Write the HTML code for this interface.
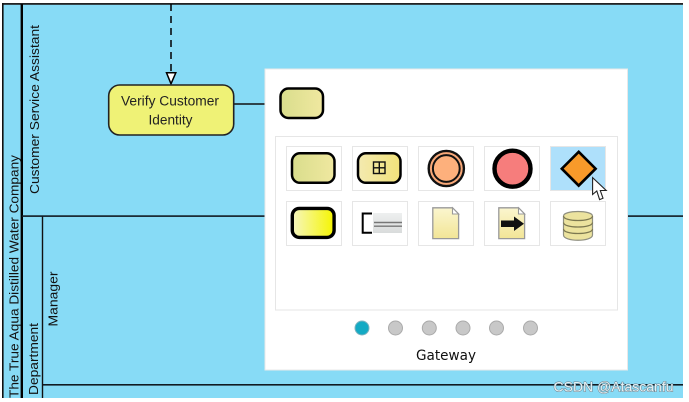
<!DOCTYPE html>
<html><head><meta charset="utf-8"><style>
html,body{margin:0;padding:0;background:#fff;width:689px;height:402px;overflow:hidden}
svg{display:block;font-family:"Liberation Sans",sans-serif;filter:blur(.35px)}
</style></head><body>
<svg width="689" height="402" viewBox="0 0 689 402" xmlns="http://www.w3.org/2000/svg">
<defs>
<linearGradient id="g1" x1="0" x2="1" y1="0" y2="0"><stop offset="0" stop-color="#d9dd8c"/><stop offset="1" stop-color="#f0e8a0"/></linearGradient>
<linearGradient id="g2" x1="0" x2="1" y1="0" y2="0"><stop offset="0" stop-color="#f3eab0"/><stop offset="1" stop-color="#f2e27a"/></linearGradient>
<linearGradient id="g3" x1="0" x2="1" y1="0" y2="0"><stop offset="0" stop-color="#f6f6c0"/><stop offset="1" stop-color="#f5f500"/></linearGradient>
<linearGradient id="g4" x1="0" x2="0" y1="0" y2="1"><stop offset="0" stop-color="#fbf6cf"/><stop offset="1" stop-color="#f2e596"/></linearGradient>
<linearGradient id="g5" x1="0" x2="0" y1="0" y2="1"><stop offset="0" stop-color="#eef0f0"/><stop offset="1" stop-color="#d9dcdc"/></linearGradient>
</defs>
<rect x="3" y="4" width="680" height="394" fill="#87dbf6"/>
<rect x="2" y="3" width="681" height="1.8" fill="#222"/>
<rect x="2" y="3" width="1.6" height="395" fill="#111"/>
<rect x="20.6" y="4" width="2.4" height="394" fill="#000"/>
<rect x="41.8" y="216" width="1.4" height="182" fill="#111"/>
<rect x="22" y="215.3" width="661" height="1.6" fill="#111a22"/>
<rect x="43" y="384" width="640" height="1.6" fill="#111a22"/>

<g fill="#111" font-size="13">
<text transform="translate(18.5,398) rotate(-90)" textLength="243" lengthAdjust="spacingAndGlyphs">The True Aqua Distilled Water Company</text>
<text transform="translate(39,194) rotate(-90)" textLength="169" lengthAdjust="spacingAndGlyphs">Customer Service Assistant</text>
<text transform="translate(38,395) rotate(-90)" textLength="72" lengthAdjust="spacingAndGlyphs">Department</text>
<text transform="translate(57.5,326.5) rotate(-90)" font-size="12.5" textLength="55" lengthAdjust="spacingAndGlyphs">Manager</text>
</g>

<line x1="171" y1="4" x2="171" y2="72" stroke="#000" stroke-width="1.5" stroke-dasharray="7 5"/>
<path d="M166.5 72.8H175.8L171 83.8Z" fill="#fff" stroke="#000" stroke-width="1.5"/>
<line x1="234" y1="104" x2="265" y2="104" stroke="#111" stroke-width="1.5"/>
<rect x="108.7" y="85" width="125" height="50" rx="11" fill="#eff276" stroke="#222" stroke-width="1.6"/>
<g fill="#222" font-size="13.5" text-anchor="middle">
<text x="170" y="105.5" textLength="98" lengthAdjust="spacingAndGlyphs">Verify Customer</text>
<text x="170.5" y="124.5" textLength="44" lengthAdjust="spacingAndGlyphs">Identity</text>
</g>

<rect x="265" y="69" width="362.5" height="301" fill="#fff" stroke="#e8e8e8" stroke-width="1"/>
<rect x="280.5" y="88.5" width="42.5" height="29.5" rx="8" fill="url(#g1)" stroke="#000" stroke-width="2.5"/>
<rect x="275.5" y="136.5" width="342" height="173.5" fill="#fff" stroke="#e6e6e6"/>

<g fill="#fff" stroke="#e6e6e6">
<rect x="286.5" y="146.5" width="55" height="44"/>
<rect x="352.5" y="146.5" width="55" height="44"/>
<rect x="418.5" y="146.5" width="55" height="44"/>
<rect x="484.5" y="146.5" width="55" height="44"/>
<rect x="550.5" y="146.5" width="55" height="44" fill="#aee0fb"/>
<rect x="286.5" y="201.5" width="55" height="44"/>
<rect x="352.5" y="201.5" width="55" height="44"/>
<rect x="418.5" y="201.5" width="55" height="44"/>
<rect x="484.5" y="201.5" width="55" height="44"/>
<rect x="550.5" y="201.5" width="55" height="44"/>
</g>

<rect x="292" y="153.3" width="42.5" height="29.5" rx="8" fill="url(#g1)" stroke="#000" stroke-width="2.5"/>
<rect x="358" y="153.3" width="42.5" height="29.5" rx="8" fill="url(#g2)" stroke="#000" stroke-width="2.5"/>
<g fill="none" stroke="#111" stroke-width="1.4">
<rect x="373.5" y="162" width="11.5" height="11.5"/>
<line x1="379.3" y1="162" x2="379.3" y2="173.5"/>
<line x1="373.5" y1="167.8" x2="385" y2="167.8"/>
</g>
<circle cx="446.3" cy="168.5" r="17.6" fill="#f8a878" stroke="#111" stroke-width="2.4"/>
<circle cx="446.3" cy="168.5" r="13.4" fill="#fdb07c" stroke="#111" stroke-width="2"/>
<circle cx="512.5" cy="168.7" r="18" fill="#f67d7c" stroke="#000" stroke-width="4.4"/>
<path d="M578.7 151.8L595.6 168.7L578.7 185.6L561.8 168.7Z" fill="#f89a2a" stroke="#000" stroke-width="2.6"/>
<path d="M592.6 177.6V194.5L596.8 191L599.6 199.6L603 198.2L600.3 190.5H606.2Z" fill="#fff" stroke="#222" stroke-width="1.1"/>

<rect x="292.3" y="208.4" width="41.8" height="29" rx="7" fill="url(#g3)" stroke="#000" stroke-width="3.4"/>
<rect x="373" y="213" width="29" height="20" fill="url(#g5)"/>
<path d="M372 213.5H362.7V232.7H372" fill="none" stroke="#000" stroke-width="2"/>
<g stroke="#777" stroke-width="1.4"><line x1="374" y1="222.5" x2="402" y2="222.5"/><line x1="374" y1="226.2" x2="402" y2="226.2"/></g>

<path d="M432.8 207.8H452.5L458.6 214V238.6H432.8Z" fill="url(#g4)" stroke="#999" stroke-width="1.3"/>
<path d="M452.5 207.8V214H458.6Z" fill="#fff" stroke="#999" stroke-width="1.1"/>
<path d="M498.8 207.8H518.5L524.6 214V238.6H498.8Z" fill="url(#g4)" stroke="#999" stroke-width="1.3"/>
<path d="M518.5 207.8V214H524.6Z" fill="#fff" stroke="#999" stroke-width="1.1"/>
<path d="M501 220.5H514V216.5L524 223.7L514 231V227H501Z" fill="#111"/>

<path d="M563.5 216c0-6 29-6 29 0V235c0 7-29 7-29 0Z" fill="#ece39e" stroke="#8f8f80" stroke-width="1.2"/>
<g fill="none" stroke="#7c7850" stroke-width="1.2"><path d="M563.5 216c0 6 29 6 29 0"/><path d="M563.5 222.5c0 6 29 6 29 0"/><path d="M563.5 229c0 6 29 6 29 0"/></g>

<circle cx="362" cy="328" r="7" fill="#14aac4" stroke="#7fb4c0" stroke-width="1"/>
<g fill="#c8c8c8" stroke="#aaa" stroke-width="1">
<circle cx="395.5" cy="328" r="7"/>
<circle cx="429.3" cy="328" r="7"/>
<circle cx="463" cy="328" r="7"/>
<circle cx="496.5" cy="328" r="7"/>
<circle cx="530.5" cy="328" r="7"/>
</g>
<text x="446" y="360" font-size="14" fill="#111" text-anchor="middle" font-family="'DejaVu Sans',sans-serif" textLength="60" lengthAdjust="spacingAndGlyphs">Gateway</text>
<text x="553.5" y="391.5" font-size="14" fill="#e6f2f6" stroke="#6a808c" stroke-width="1" paint-order="stroke" textLength="120" lengthAdjust="spacingAndGlyphs">CSDN @Atascanfu</text>
</svg>
</body></html>
